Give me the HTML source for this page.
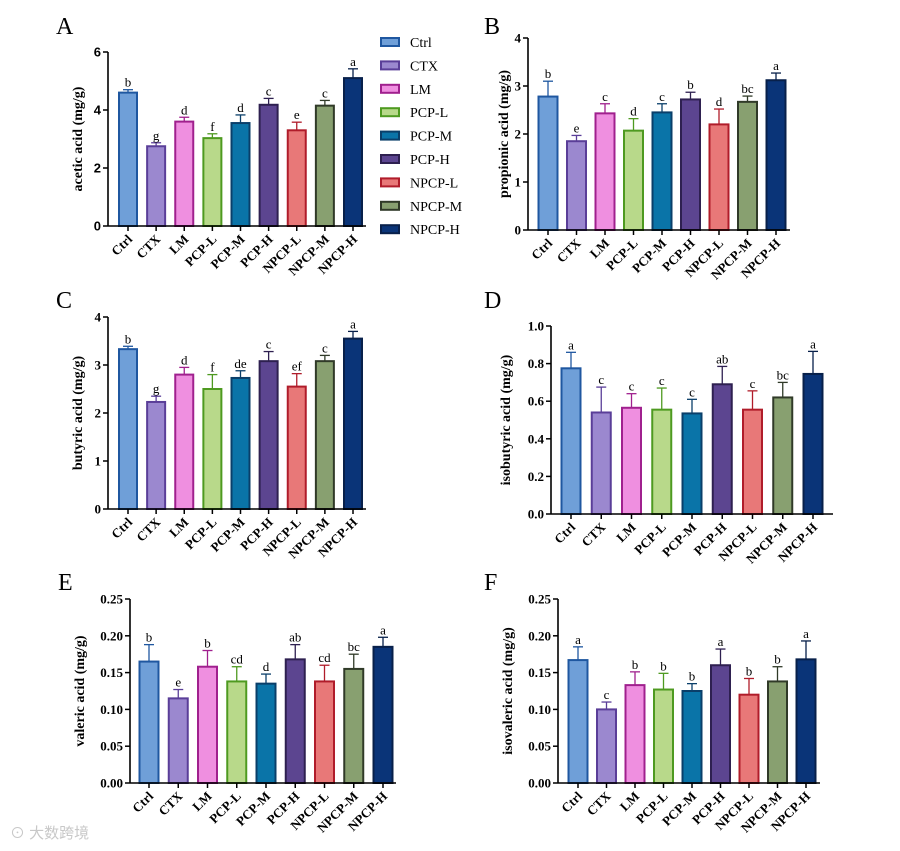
<!DOCTYPE html>
<html><head><meta charset="utf-8"><style>
html,body{margin:0;padding:0;background:#fff}
svg{display:block}
</style></head><body>
<svg id="fig" width="900" height="851" viewBox="0 0 900 851" xmlns="http://www.w3.org/2000/svg">
<g id="legend"></g>
<text x="10" y="838" font-family="Liberation Sans, Noto Sans CJK SC, sans-serif" font-size="15" fill="#c8c8c8">⊙ 大数跨境</text>
</svg>
<script>
const categories = ["Ctrl","CTX","LM","PCP-L","PCP-M","PCP-H","NPCP-L","NPCP-M","NPCP-H"];
const fills = ["#6f9fd8","#9b88cf","#ef8fe0","#b8d98a","#0a74a8","#5c4590","#e87878","#88a070","#0a3478"];
const strokes = ["#1f57a0","#5a3e98","#a0208e","#4e9a20","#0a3f6a","#2e2050","#b01c2a","#303a28","#08204a"];

const aceticVals = [4.6,2.75,3.6,3.03,3.55,4.18,3.3,4.15,5.1];
const aceticErr = [0.1,0.12,0.15,0.15,0.28,0.22,0.28,0.18,0.32];
const aceticSig = ["b","g","d","f","d","c","e","c","a"];
const aceticTicks = [0,2,4,6];

const propionicVals = [2.78,1.85,2.43,2.07,2.45,2.72,2.2,2.67,3.12];
const propionicErr = [0.32,0.12,0.2,0.25,0.18,0.15,0.32,0.12,0.15];
const propionicSig = ["b","e","c","d","c","b","d","bc","a"];
const propionicTicks = [0,1,2,3,4];

const butyricVals = [3.33,2.23,2.8,2.5,2.73,3.08,2.55,3.08,3.55];
const butyricErr = [0.06,0.12,0.15,0.3,0.15,0.2,0.27,0.12,0.15];
const butyricSig = ["b","g","d","f","de","c","ef","c","a"];
const butyricTicks = [0,1,2,3,4];

const isobutyricVals = [0.775,0.54,0.565,0.555,0.535,0.69,0.555,0.62,0.745];
const isobutyricErr = [0.085,0.135,0.075,0.115,0.075,0.095,0.1,0.08,0.12];
const isobutyricSig = ["a","c","c","c","c","ab","c","bc","a"];
const isobutyricTicks = ["0.0","0.2","0.4","0.6","0.8","1.0"];

const valericVals = [0.165,0.115,0.158,0.138,0.135,0.168,0.138,0.155,0.185];
const valericErr = [0.023,0.012,0.022,0.02,0.013,0.02,0.022,0.02,0.013];
const valericSig = ["b","e","b","cd","d","ab","cd","bc","a"];
const valericTicks = ["0.00","0.05","0.10","0.15","0.20","0.25"];

const isovalericVals = [0.167,0.1,0.133,0.127,0.125,0.16,0.12,0.138,0.168];
const isovalericErr = [0.018,0.01,0.018,0.022,0.01,0.022,0.022,0.02,0.025];
const isovalericSig = ["a","c","b","b","b","a","b","b","a"];
const isovalericTicks = ["0.00","0.05","0.10","0.15","0.20","0.25"];

const NS="http://www.w3.org/2000/svg";
const svg=document.getElementById('fig');
function mk(tag,attrs,parent){const e=document.createElementNS(NS,tag);for(const k in attrs)e.setAttribute(k,attrs[k]);(parent||svg).appendChild(e);return e;}

const panels=[
 {id:"a",letter:"A",lx:56,ly:34,title:"acetic acid (mg/g)",tx:82,vals:aceticVals,err:aceticErr,sig:aceticSig,ticks:aceticTicks,ax:108,axEnd:366,y0:226,yTop:52,x1:128,x9:353,bw:18,tickFont:"Liberation Sans"},
 {id:"b",letter:"B",lx:484,ly:34,title:"propionic acid (mg/g)",tx:508,vals:propionicVals,err:propionicErr,sig:propionicSig,ticks:propionicTicks,ax:528,axEnd:790,y0:230,yTop:38,x1:548,x9:776,bw:19,tickFont:"Liberation Serif"},
 {id:"c",letter:"C",lx:56,ly:308,title:"butyric acid (mg/g)",tx:82,vals:butyricVals,err:butyricErr,sig:butyricSig,ticks:butyricTicks,ax:108,axEnd:366,y0:509,yTop:317,x1:128,x9:353,bw:18,tickFont:"Liberation Serif"},
 {id:"d",letter:"D",lx:484,ly:308,title:"isobutyric acid (mg/g)",tx:510,vals:isobutyricVals,err:isobutyricErr,sig:isobutyricSig,ticks:isobutyricTicks,ax:551,axEnd:833,y0:514,yTop:326,x1:571,x9:813,bw:19,tickFont:"Liberation Serif"},
 {id:"e",letter:"E",lx:58,ly:590,title:"valeric acid (mg/g)",tx:84,vals:valericVals,err:valericErr,sig:valericSig,ticks:valericTicks,ax:130,axEnd:396,y0:783,yTop:599,x1:149,x9:383,bw:19,tickFont:"Liberation Serif"},
 {id:"f",letter:"F",lx:484,ly:590,title:"isovaleric acid (mg/g)",tx:512,vals:isovalericVals,err:isovalericErr,sig:isovalericSig,ticks:isovalericTicks,ax:558,axEnd:820,y0:783,yTop:599,x1:578,x9:806,bw:19,tickFont:"Liberation Serif"}
];

panels.forEach(p=>{
 const g=mk('g',{});
 
 
 const tmax=parseFloat(p.ticks[p.ticks.length-1]);
 const ys=v=>p.y0-(v/tmax)*(p.y0-p.yTop);
 const xs=i=>p.x1+i*(p.x9-p.x1)/(categories.length-1);
 const L=mk('text',{x:p.lx,y:p.ly,'font-family':'Liberation Serif, serif','font-size':24},g);
 L.textContent=p.letter;
 
 
 p.vals.forEach((v,i)=>{
  const cx=xs(i), top=ys(v), et=ys(v+p.err[i]);
  const eb=mk('line',{x1:cx,x2:cx,y1:top,y2:et,stroke:strokes[i],'stroke-width':1.3},g);
  
  
  mk('line',{x1:cx-5,x2:cx+5,y1:et,y2:et,stroke:strokes[i],'stroke-width':1.3},g);
  const r=mk('rect',{x:cx-p.bw/2,y:top,width:p.bw,height:p.y0-top,fill:fills[i],stroke:strokes[i],'stroke-width':2},g);
  
  
  const s=mk('text',{x:cx,y:et-3,'text-anchor':'middle','font-family':'Liberation Serif, serif','font-size':13},g);
  s.textContent=p.sig[i];
  
  
  mk('line',{x1:cx,x2:cx,y1:p.y0,y2:p.y0+5,stroke:'#000','stroke-width':1.5},g);
  const xl=mk('text',{x:cx+5,y:p.y0+14,'text-anchor':'end','font-family':'Liberation Serif, serif','font-weight':'bold','font-size':13,transform:'rotate(-45 '+(cx+5)+' '+(p.y0+14)+')'},g);
  xl.textContent=categories[i];
  
  
 });
 const ya=mk('line',{x1:p.ax,x2:p.ax,y1:p.yTop,y2:p.y0,stroke:'#000','stroke-width':1.6},g);
 
 
 const xa=mk('line',{x1:p.ax,x2:p.axEnd,y1:p.y0,y2:p.y0,stroke:'#000','stroke-width':1.6},g);
 
 
 p.ticks.forEach(t=>{
  const y=ys(parseFloat(t));
  mk('line',{x1:p.ax-5,x2:p.ax,y1:y,y2:y,stroke:'#000','stroke-width':1.5},g);
  const tl=mk('text',{x:p.ax-7,y:y+4.5,'text-anchor':'end','font-family':p.tickFont+', serif','font-weight':'bold','font-size':13},g);
  tl.textContent=t;
  
  
 });
 const cy=(p.y0+p.yTop)/2;
 const yt=mk('text',{x:p.tx,y:cy,'text-anchor':'middle','font-family':'Liberation Serif, serif','font-weight':'bold','font-size':14,transform:'rotate(-90 '+p.tx+' '+cy+')'},g);
 yt.textContent=p.title;
 
 
});

const lg=document.getElementById('legend');
categories.forEach((c,i)=>{
 const y=42+i*23.4;
 const r=mk('rect',{x:381,y:y-4,width:18,height:8,fill:fills[i],stroke:strokes[i],'stroke-width':2},lg);
 
 
 const t=mk('text',{x:410,y:y+5,'font-family':'Liberation Serif, serif','font-size':14},lg);
 t.textContent=c;
 
 
});
</script>
</body></html>
